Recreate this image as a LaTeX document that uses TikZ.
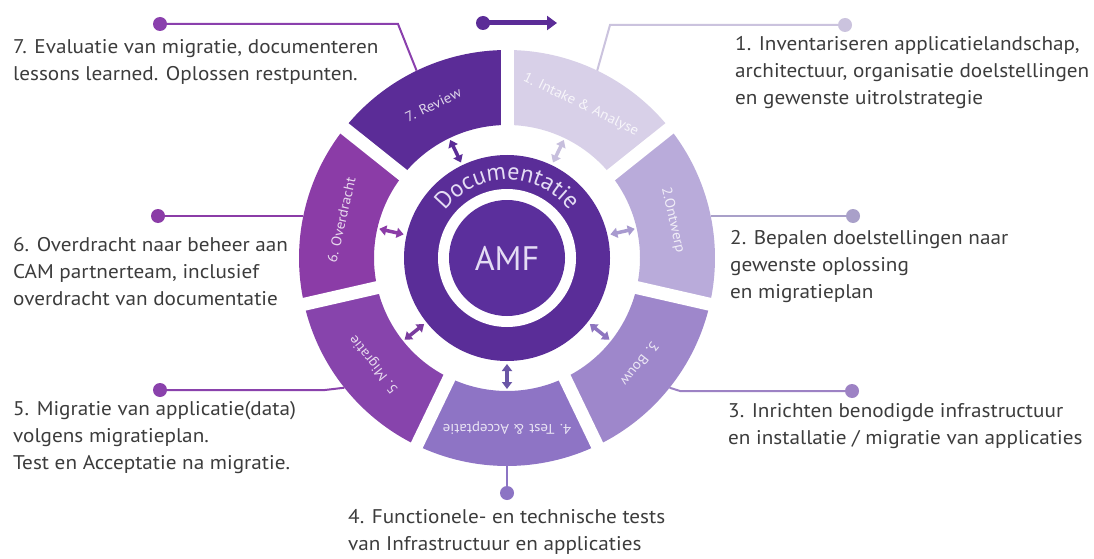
\documentclass[tikz,border=0pt]{standalone}
\usepackage{fontspec}
\setmainfont{PT Sans}
\newfontfamily\calfont{PT Sans}[FakeStretch=1.07]
\usetikzlibrary{arrows.meta,decorations.text}
\definecolor{intk}{HTML}{D8D0E8}
\definecolor{ontw}{HTML}{B9ABDA}
\definecolor{bouw}{HTML}{9E87CB}
\definecolor{testc}{HTML}{8E74C5}
\definecolor{migr}{HTML}{8744AC}
\definecolor{over}{HTML}{8B3CA7}
\definecolor{rev}{HTML}{5B2C97}
\definecolor{docc}{HTML}{5A2D98}
\definecolor{amfc}{HTML}{5B2F9C}
\definecolor{lavtext}{HTML}{E4DCF4}
\definecolor{txt}{HTML}{3C3C3C}
\definecolor{a1}{HTML}{C7BFDD}
\definecolor{a2}{HTML}{A89ACF}
\definecolor{a3}{HTML}{8E76C0}
\definecolor{a4}{HTML}{6A56A6}
\definecolor{a5}{HTML}{7A3C9E}
\definecolor{a6}{HTML}{8B3CA7}
\definecolor{a7}{HTML}{5B2C97}
\definecolor{c1}{HTML}{CBC3DE}
\definecolor{c2}{HTML}{A9A0C9}
\definecolor{c3}{HTML}{9D82C4}
\definecolor{c4}{HTML}{8C74C4}
\definecolor{c5}{HTML}{8A42AC}
\definecolor{c6}{HTML}{8B3CA7}
\definecolor{c7}{HTML}{8A40AD}
\tikzset{
  seglab/.style={text=white, opacity=0.8, font=\calfont\fontsize{14}{16}\selectfont, inner sep=0pt},
  callout/.style={text=txt, align=left, inner sep=0pt, font=\calfont\fontsize{19.8}{27}\selectfont},
  dotnode/.style={circle, fill=#1, minimum size=14pt, inner sep=0pt},
  cline/.style={draw=#1, line width=2pt},
  dblarrow/.style={draw=#1, line width=3.5pt, {Triangle[length=7pt,width=10pt]}-{Triangle[length=7pt,width=10pt]}},
}
\begin{document}
\begin{tikzpicture}[x=1pt,y=1pt]
\useasboundingbox (0,0) rectangle (1094,558);
\fill[white] (0,0) rectangle (1094,558);
\begin{scope}[shift={(507,300)}]
  % ring segments
  \foreach \s/\c/\ac/\t [count=\i] in {
      90/intk/a1/{1. Intake \& Analyse},
      38.5714/ontw/a2/{2.Ontwerp},
      -12.8571/bouw/a3/{3. Bouw},
      -64.2857/testc/a4/{4. Test \& Acceptatie},
      -115.7143/migr/a5/{5. Migratie},
      -167.1429/over/a6/{6. Overdracht},
      -218.5714/rev/a7/{7. Review}} {
    \pgfmathsetmacro{\e}{\s-51.4286}
    \pgfmathsetmacro{\m}{\s-25.7143}
    \fill[\c] (\s:208) arc[start angle=\s, end angle=\e, radius=208]
      -- (\e:133) arc[start angle=\e, end angle=\s, radius=133] -- cycle;
    \node[seglab, rotate=\m-90] (lab\i) at (\m:170) {\t};
    \coordinate (ai\i) at (\m:106);
    \coordinate (ao\i) at (\m:131);
    \draw[dblarrow=\ac] (ai\i) -- (ao\i);
  }
  % gaps
  \foreach \s in {90,38.5714,-12.8571,-64.2857,-115.7143,-167.1429,-218.5714}
    \draw[white, line width=13pt] (\s:120) -- (\s:220);
  % centre
  \node[circle, fill=docc, minimum size=206pt, inner sep=0pt] (doc) at (0,0) {};
  \fill[white] (0,0) circle[radius=69];
  \node[circle, fill=amfc, minimum size=116pt, inner sep=0pt, text=lavtext,
        font=\fontsize{34}{34}\selectfont] (amf) at (0,0) {AMF};
  \path[decorate, decoration={text along path, text align=center,
        text color=lavtext, text={|\fontsize{24}{24}\selectfont|Documentatie}}]
        (160:78) arc[start angle=160, end angle=20, radius=78];
\end{scope}

% top arrow
\node[dotnode=rev] (ta) at (483,535) {};
\coordinate (tb) at (557,535);
\draw[draw=rev, line width=5pt, -{Triangle[length=10pt,width=14pt]}] (ta.center) -- (tb);

% callouts
\node[dotnode=c7] (d7) at (160,534) {};
\coordinate (k7) at (398,534);
\coordinate (e7) at (416.6,487.3);
\draw[cline=c7] (d7) -- (k7) -- (e7);
\node[callout, anchor=north west] (t7) at (13,519) {7. Evaluatie van migratie, documenteren\\lessons learned. Oplossen restpunten.};

\node[dotnode=c1] (d1) at (845,533) {};
\coordinate (k1) at (610,533);
\coordinate (e1) at (597.2,487.4);
\draw[cline=c1] (d1) -- (k1) -- (e1);
\node[callout, anchor=north west] (t1) at (735,522) {1. Inventariseren applicatielandschap,\\architectuur, organisatie doelstellingen\\en gewenste uitrolstrategie};

\node[dotnode=c2] (d2) at (853,342) {};
\coordinate (e2) at (710.7,342);
\draw[cline=c2] (d2) -- (e2);
\node[callout, anchor=north west] (t2) at (730,328) {2. Bepalen doelstellingen naar\\gewenste oplossing\\en migratieplan};

\node[dotnode=c3] (d3) at (852,167) {};
\coordinate (k3) at (680,167);
\coordinate (e3) at (669.6,170.3);
\draw[cline=c3] (d3) -- (k3) -- (e3);
\node[callout, anchor=north west] (t3) at (728,155) {3. Inrichten benodigde infrastructuur\\en installatie / migratie van applicaties};

\node[dotnode=c4] (d4) at (507,65) {};
\coordinate (e4) at (507,92);
\draw[cline=c4] (d4) -- (e4);
\node[callout, anchor=north west] (t4) at (348,49) {4. Functionele- en technische tests\\van Infrastructuur en applicaties};

\node[dotnode=c5] (d5) at (160,168) {};
\coordinate (k5) at (325,168);
\coordinate (e5) at (344.4,170.3);
\draw[cline=c5] (d5) -- (k5) -- (e5);
\node[callout, anchor=north west] (t5) at (13,157) {5. Migratie van applicatie(data)\\volgens migratieplan.\\Test en Acceptatie na migratie.};

\node[dotnode=c6] (d6) at (158,342) {};
\coordinate (e6) at (303.3,342);
\draw[cline=c6] (d6) -- (e6);
\node[callout, anchor=north west] (t6) at (13,321) {6. Overdracht naar beheer aan\\CAM partnerteam, inclusief\\overdracht van documentatie};
\end{tikzpicture}
\end{document}
